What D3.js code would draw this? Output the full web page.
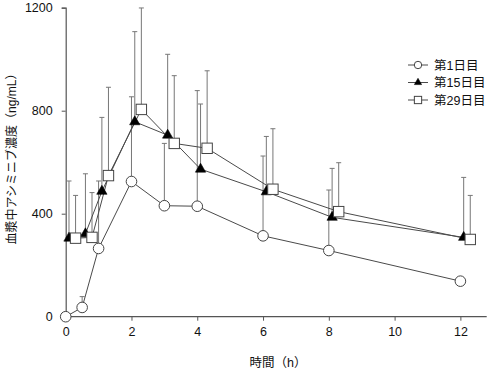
<!DOCTYPE html>
<html>
<head>
<meta charset="utf-8">
<script src="https://cdn.jsdelivr.net/npm/d3@7"></script>
<style>
  body { margin: 0; background: #fff; }
  svg { display: block; font-family: "Liberation Sans", Arial, "Noto Sans CJK JP", sans-serif; }
</style>
</head>
<body>
<div id="chart"></div>
<script>
// Nominal sampling times (h)
const times = [0, 0.5, 1, 2, 3, 4, 6, 8, 12];

// Mean concentration (ng/mL) and SD
const day1Mean  = [0, 36, 265, 525, 431, 429, 314, 257, 138];
const day1Sd    = [0, 42, 262, 329, 242, 449, 310, 235, 0];
const day15Mean = [305, 322, 487, 757, 705, 573, 485, 386, 308];
const day15Sd   = [222, 233, 287, 350, 314, 253, 215, 190, 233];
const day29Mean = [305, 308, 548, 805, 673, 654, 495, 408, 300];
const day29Sd   = [166, 174, 343, 394, 263, 301, 235, 190, 171];

const seriesNames = ['第1日目', '第15日目', '第29日目'];
const xTicks = [0, 2, 4, 6, 8, 10, 12];
const yTicks = [0, 400, 800, 1200];

const width = 492, height = 372;
const margin = { top: 7.7, right: 5.3, bottom: 55.3, left: 65.7 };

const svg = d3.select('#chart').append('svg')
  .attr('width', width)
  .attr('height', height);

const x = d3.scaleLinear().domain([0, 12.8]).range([margin.left, width - margin.right]);
const y = d3.scaleLinear().domain([0, 1200]).range([height - margin.bottom, margin.top]);

const axisColor = '#555';
const lineColor = '#4a4a4a';
const barColor = '#777';

// series with a small horizontal dodge so the bars don't overlap
const series = [
  { name: seriesNames[0], mean: day1Mean, sd: day1Sd, dodge: 0, shape: 'circle' },
  { name: seriesNames[1], mean: day15Mean, sd: day15Sd, dodge: 0.1, shape: 'triangle' },
  { name: seriesNames[2], mean: day29Mean, sd: day29Sd, dodge: 0.3, shape: 'square' }
];

function marker(sel, shape, scale) {
  const s = scale || 1;
  if (shape === 'circle') {
    sel.append('circle').attr('r', 5.3 * s)
      .attr('fill', '#fff').attr('stroke', '#444').attr('stroke-width', 1);
  } else if (shape === 'triangle') {
    sel.append('path').attr('d', d3.symbol(d3.symbolTriangle, 46 * s * s)())
      .attr('fill', '#000').attr('stroke', '#000').attr('stroke-width', 0.6);
  } else {
    const h = 5.2 * s;
    sel.append('rect').attr('x', -h).attr('y', -h).attr('width', 2 * h).attr('height', 2 * h)
      .attr('fill', '#fff').attr('stroke', '#444').attr('stroke-width', 1);
  }
}

// Axes
const xAxis = svg.append('g')
  .attr('transform', `translate(0, ${y(0)})`)
  .call(d3.axisBottom(x).tickValues(xTicks).tickSize(4).tickPadding(6));
const yAxis = svg.append('g')
  .attr('transform', `translate(${x(0)}, 0)`)
  .call(d3.axisLeft(y).tickValues(yTicks).tickFormat(d3.format('d')).tickSize(4).tickPadding(9));

[xAxis, yAxis].forEach(a => {
  a.select('.domain').attr('stroke', axisColor).attr('stroke-width', 1.2);
  a.selectAll('.tick line').attr('stroke', axisColor);
  a.selectAll('.tick text').attr('fill', '#111').attr('font-size', '12.5px')
    .attr('font-family', '"Liberation Sans", Arial, sans-serif');
});
// x axis line runs the full width
xAxis.select('.domain').attr('d', `M${x(0)},0H${width - margin.right}`);

// Error bars (upper only)
const bars = svg.append('g');
series.forEach(s => {
  times.forEach((t, i) => {
    if (!s.sd[i]) return;
    const cx = x(t + s.dodge);
    const top = y(s.mean[i] + s.sd[i]);
    bars.append('line')
      .attr('x1', cx).attr('x2', cx)
      .attr('y1', y(s.mean[i])).attr('y2', top)
      .attr('stroke', barColor).attr('stroke-width', 1);
    bars.append('line')
      .attr('x1', cx - 2.5).attr('x2', cx + 2.5)
      .attr('y1', top).attr('y2', top)
      .attr('stroke', barColor).attr('stroke-width', 1);
  });
});

// Lines
const line = d3.line();
series.forEach(s => {
  svg.append('path')
    .attr('d', line(times.map((t, i) => [x(t + s.dodge), y(s.mean[i])])))
    .attr('fill', 'none')
    .attr('stroke', lineColor)
    .attr('stroke-width', 1);
});

// Markers
series.forEach(s => {
  times.forEach((t, i) => {
    const g = svg.append('g')
      .attr('transform', `translate(${x(t + s.dodge)}, ${y(s.mean[i])})`);
    marker(g, s.shape);
  });
});

// Legend
const legend = svg.append('g').attr('transform', 'translate(408, 65)');
series.forEach((s, i) => {
  const row = legend.append('g').attr('transform', `translate(0, ${i * 17.5})`);
  row.append('line').attr('x1', 0).attr('x2', 20)
    .attr('stroke', lineColor).attr('stroke-width', 1);
  marker(row.append('g').attr('transform', 'translate(10, 0)'), s.shape, 0.7);
  row.append('text')
    .attr('x', 26)
    .attr('y', 0)
    .attr('dy', '0.36em')
    .attr('font-size', '12.5px')
    .attr('fill', '#111')
    .text(s.name);
});

// Axis titles
svg.append('text')
  .attr('x', 278)
  .attr('y', 367)
  .attr('text-anchor', 'middle')
  .attr('font-size', '12.5px')
  .attr('fill', '#111')
  .text('時間（h）');

svg.append('text')
  .attr('transform', `translate(16, 156) rotate(-90)`)
  .attr('text-anchor', 'middle')
  .attr('font-size', '12px')
  .attr('fill', '#111')
  .text('血漿中アシミニブ濃度（ng/mL）');
</script>
</body>
</html>
